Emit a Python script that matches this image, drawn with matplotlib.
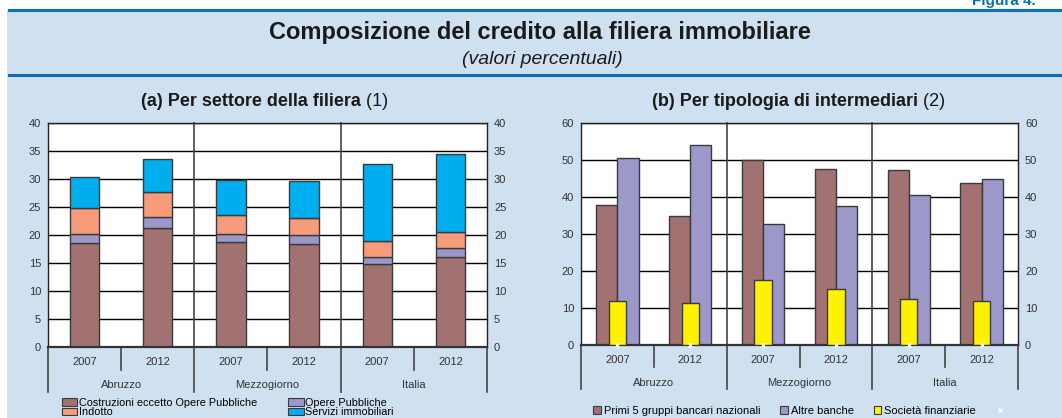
import matplotlib
matplotlib.use('Agg')
import matplotlib.pyplot as plt
import numpy as np
from matplotlib.patches import Rectangle, Patch
from matplotlib.lines import Line2D

# dati
years = ['2007', '2012', '2007', '2012', '2007', '2012']
groups = ['Abruzzo', 'Mezzogiorno', 'Italia']

# (a) per settore della filiera
a_costruzioni = [18.5, 21.2, 18.7, 18.4, 14.8, 16.0]
a_opere = [1.7, 2.1, 1.5, 1.6, 1.2, 1.6]
a_indotto = [4.7, 4.4, 3.3, 3.1, 2.9, 3.0]
a_servizi = [5.5, 5.9, 6.4, 6.6, 13.8, 13.9]
a_labels = ['Costruzioni eccetto Opere Pubbliche', 'Opere Pubbliche', 'Indotto', 'Servizi immobiliari']

# (b) per tipologia di intermediari
b_primi5 = [37.8, 35.0, 50.0, 47.5, 47.3, 43.8]
b_altre = [50.5, 54.0, 32.8, 37.6, 40.5, 44.8]
b_finanz = [12.0, 11.3, 17.6, 15.2, 12.4, 11.8]
b_labels = ['Primi 5 gruppi bancari nazionali', 'Altre banche', 'Società finanziarie']

c_brown = '#a27273'
c_purple = '#9c98c9'
c_orange = '#f69c7b'
c_blue = '#00adee'
c_yellow = '#fff200'
c_bg = '#cfe1f1'
c_line = '#0a72b4'
c_edge = '#3a3a3a'

plt.rcParams['font.family'] = ['Liberation Sans', 'DejaVu Sans']

W, H = 1062, 418


def fx(px):
    return px / W


def fy(px):
    return 1 - px / H


fig = plt.figure(figsize=(W / 100, H / 100), dpi=100)
fig.patch.set_facecolor('white')
fig.add_artist(Rectangle((fx(7), 0), 1 - fx(7), fy(10), transform=fig.transFigure,
                         facecolor=c_bg, edgecolor='none', zorder=-5))
fig.add_artist(Line2D([fx(9), 1], [fy(10), fy(10)], color=c_line, lw=2.2, zorder=-4))
fig.add_artist(Line2D([fx(9), 1], [fy(75), fy(75)], color=c_line, lw=2.2, zorder=-4))

fig.text(fx(972), fy(8), 'Figura 4.', color=c_line, fontsize=11, fontweight='bold',
         ha='left', va='bottom')
fig.text(fx(540), fy(32), 'Composizione del credito alla filiera immobiliare',
         fontsize=17, fontweight='bold', ha='center', va='center', color='#1a1a1a')
fig.text(fx(542), fy(60), '(valori percentuali)', fontsize=14, style='italic',
         ha='center', va='center', color='#1a1a1a')


def setup_axis(ax, top, step, ax_h_px, d_year, d_group, lab_y):
    x = np.arange(len(years))
    ax.set_xlim(-0.5, len(years) - 0.5)
    ax.set_ylim(0, top)
    ax.set_yticks(np.arange(0, top + 1, step))
    ax.set_xticks(x)
    ax.set_xticklabels(years)
    ax.tick_params(axis='x', length=0, pad=7, labelsize=8, colors='#333333')
    ax.tick_params(axis='y', length=0, pad=5, labelsize=8, colors='#333333',
                   labelright=True)
    ax.yaxis.grid(True, color='black', lw=1.0)
    ax.set_axisbelow(True)
    for s in ['top', 'left', 'right']:
        ax.spines[s].set_color('#222222')
        ax.spines[s].set_linewidth(1.0)
    ax.spines['bottom'].set_color('#333333')
    ax.spines['bottom'].set_linewidth(1.6)
    tr = ax.get_xaxis_transform()
    # separatori anni
    for xs in [0.5, 2.5, 4.5]:
        ax.plot([xs, xs], [0, -d_year / ax_h_px], transform=tr, color='#444444',
                lw=1.2, clip_on=False)
    # separatori gruppi
    for xs in [-0.5, 1.5, 3.5, 5.5]:
        ax.plot([xs, xs], [1 if xs in (1.5, 3.5) else 0, -d_group / ax_h_px], transform=tr,
                color='#444444', lw=1.2, clip_on=False)
    for i, g in enumerate(groups):
        ax.text(2 * i + 0.5, -lab_y / ax_h_px, g, transform=tr, ha='center', va='center',
                fontsize=8, color='#333333')


# pannello (a)
ax_a = fig.add_axes([fx(48), fy(347), (487 - 48) / W, (347 - 123) / H])
ax_a.set_facecolor('white')
x = np.arange(len(years))
bw = 0.4
bottom = np.zeros(len(years))
handles_a = []
for vals, col, lab in zip([a_costruzioni, a_opere, a_indotto, a_servizi],
                          [c_brown, c_purple, c_orange, c_blue], a_labels):
    ax_a.bar(x, vals, bw, bottom=bottom, color=col, edgecolor=c_edge, lw=1.0, zorder=2)
    bottom += np.array(vals)
    handles_a.append(Patch(facecolor=col, edgecolor=c_edge, lw=0.8, label=lab))
setup_axis(ax_a, 40, 5, 224, 23, 45, 38)
ta = fig.text(fx(141), fy(102), '(a) Per settore della filiera', fontsize=13,
              fontweight='bold', ha='left', va='center', color='#1a1a1a')
ax_a.annotate(' (1)', xy=(1, 0.5), xycoords=ta, ha='left', va='center',
              fontsize=13, color='#1a1a1a', annotation_clip=False)

fig.legend([handles_a[0], handles_a[2], handles_a[1], handles_a[3]],
           [a_labels[0], a_labels[2], a_labels[1], a_labels[3]],
           ncol=2, loc='upper left', bbox_to_anchor=(fx(62), fy(398)),
           frameon=False, fontsize=7.8, labelspacing=-0.05, handlelength=1.4,
           handleheight=0.7, handletextpad=0.15, columnspacing=2.9,
           borderpad=0, borderaxespad=0)

# pannello (b)
ax_b = fig.add_axes([fx(581), fy(345), (1018 - 581) / W, (345 - 123) / H])
ax_b.set_facecolor('white')
bw2 = 0.29
ax_b.bar(x - bw2 / 2, b_primi5, bw2, color=c_brown, edgecolor=c_edge, lw=1.0, zorder=2)
ax_b.bar(x + bw2 / 2, b_altre, bw2, color=c_purple, edgecolor=c_edge, lw=1.0, zorder=2)
ax_b.bar(x, b_finanz, 0.24, color=c_yellow, edgecolor=c_edge, lw=1.0, zorder=3)
ax_b.plot(x, np.zeros(len(years)), 'x', color='white', ms=3, mew=1, zorder=5, clip_on=False)
setup_axis(ax_b, 60, 10, 222, 22, 44, 38)
tb = fig.text(fx(652), fy(102), '(b) Per tipologia di intermediari', fontsize=13,
              fontweight='bold', ha='left', va='center', color='#1a1a1a')
ax_b.annotate(' (2)', xy=(1, 0.5), xycoords=tb, ha='left', va='center',
              fontsize=13, color='#1a1a1a', annotation_clip=False)

handles_b = [Patch(facecolor=c, edgecolor=c_edge, lw=0.8) for c in [c_brown, c_purple, c_yellow]]
handles_b.append(Line2D([], [], marker='x', color='white', ms=3, mew=1, ls='none'))
fig.legend(handles_b, b_labels + [''], ncol=4, loc='center left',
           bbox_to_anchor=(fx(593), fy(411)), frameon=False, fontsize=8,
           handlelength=0.7, handleheight=0.7, handletextpad=0.25, columnspacing=1.8,
           borderpad=0, borderaxespad=0)

fig.savefig('out.png', dpi=100, facecolor=fig.get_facecolor())
